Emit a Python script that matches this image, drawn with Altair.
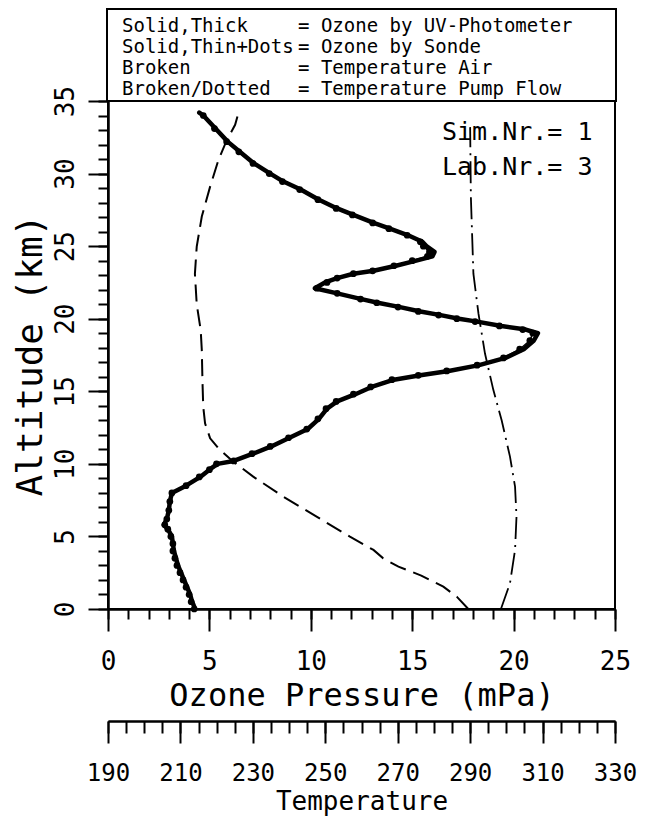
import altair as alt
import pandas as pd

# ---------------- data ----------------
uv_alt = [0.0, 0.5, 1.0, 1.5, 2.0, 2.5, 3.0, 3.5, 4.0, 4.5, 5.0, 5.5, 5.8, 6.2, 6.8, 7.4, 8.0,
          8.5, 9.1, 9.6, 10.0, 10.2, 10.7, 11.2, 11.8, 12.4, 13.1, 13.8, 14.3, 14.8, 15.3,
          15.8, 16.1, 16.4, 16.8, 17.3, 17.9, 18.5, 19.0, 19.25, 19.5, 19.8, 20.0, 20.25,
          20.5, 20.8, 21.1, 21.35, 21.75, 22.1, 22.5, 22.8, 23.1, 23.3, 23.65, 24.0, 24.3,
          24.6, 25.0, 25.3, 25.75, 26.2, 26.6, 27.15, 27.6, 28.2, 28.9, 29.45, 30.0, 30.7,
          31.5, 32.2, 33.1, 34.0, 34.2]
uv_o3 = [4.3, 4.15, 4.05, 3.9, 3.75, 3.6, 3.45, 3.35, 3.25, 3.2, 3.15, 2.95, 2.75, 2.9, 3.0, 3.05, 3.15,
         3.85, 4.55, 5.0, 5.4, 6.2, 7.15, 8.05, 8.95, 9.85, 10.4, 10.8, 11.3, 12.2, 13.0,
         14.1, 15.4, 16.8, 18.3, 19.6, 20.5, 21.0, 21.2, 20.6, 19.4, 18.2, 17.3, 16.4,
         15.4, 14.4, 13.3, 12.5, 11.3, 10.2, 10.7, 11.3, 12.1, 13.1, 14.2, 15.2, 16.0,
         16.1, 15.7, 15.5, 14.8, 13.9, 13.1, 12.1, 11.3, 10.4, 9.5, 8.65, 8.0, 7.2,
         6.5, 5.9, 5.3, 4.7, 4.5]

sonde_alt = [0.0, 0.5, 1.0, 1.5, 2.0, 2.5, 3.0, 3.5, 4.0, 4.5, 5.0, 5.5, 5.8, 6.2, 6.8, 7.4, 8.0,
             8.5, 9.1, 9.6, 10.0, 10.2, 10.7, 11.2, 11.8, 12.4, 13.1, 13.8, 14.3, 14.8, 15.3,
             15.8, 16.1, 16.4, 16.8, 17.3, 17.9, 18.5, 19.0, 19.25, 19.5, 19.8, 20.0, 20.25,
             20.5, 20.8, 21.1, 21.35, 21.75, 22.1, 22.5, 22.8, 23.1, 23.3, 23.65, 24.0, 24.3,
             24.6, 25.0, 25.3, 25.75, 26.2, 26.6, 27.15, 27.6, 28.2, 28.9, 29.45, 30.0, 30.7,
             31.5, 32.2, 33.1, 34.0]
sonde_o3 = [4.25, 4.1, 4.0, 3.85, 3.7, 3.55, 3.4, 3.3, 3.2, 3.2, 3.1, 2.95, 2.8, 2.9, 3.0, 3.05, 3.15,
            3.85, 4.5, 5.0, 5.35, 6.2, 7.1, 8.0, 8.9, 9.8, 10.35, 10.75, 11.25, 12.1, 12.95,
            14.0, 15.3, 16.7, 18.2, 19.5, 20.3, 20.8, 20.95, 20.45, 19.3, 18.1, 17.2, 16.3,
            15.3, 14.3, 13.25, 12.45, 11.3, 10.3, 10.8, 11.3, 12.1, 13.05, 14.1, 15.0, 15.75,
            15.85, 15.55, 15.4, 14.75, 13.85, 13.05, 12.05, 11.25, 10.35, 9.45, 8.6, 7.95, 7.15,
            6.45, 5.85, 5.25, 4.7]

tair_alt = [0.0, 0.85, 1.54, 2.3, 2.92, 3.49, 4.07, 4.98, 6.36, 7.74, 9.12, 10.15, 11.07, 11.76,
            12.79, 13.94, 15.55, 17.85, 19.2, 21.0, 23.1, 24.97, 27.04, 29.1, 30.94, 32.3,
            33.36, 34.16]
tair_t = [289.5, 286.3, 282.6, 276.5, 270.2, 266.0, 263.3, 256.8, 247.6, 238.4, 230.1, 224.6,
          220.5, 218.2, 216.8, 216.3, 216.1, 215.9, 215.6, 214.5, 214.0, 214.5, 215.9, 218.2,
          220.5, 222.8, 225.1, 226.0]

tpump_alt = [0.0, 1.77, 4.07, 6.36, 8.43, 10.5, 13.0, 15.1, 17.6, 20.35, 23.1, 28.4, 33.2]
tpump_t = [298.5, 301.0, 302.4, 302.8, 302.4, 301.0, 298.7, 296.4, 294.1, 292.3, 290.9,
           290.2, 290.0]

legend_keys = ["Solid,Thick", "Solid,Thin+Dots", "Broken", "Broken/Dotted"]
legend_vals = ["= Ozone by UV-Photometer", "= Ozone by Sonde", "= Temperature Air",
               "= Temperature Pump Flow"]
info_lines = ["Sim.Nr.= 1", "Lab.Nr.= 3"]

o3_major = [0, 5, 10, 15, 20, 25]
o3_minor = list(range(0, 26))
alt_major = [0, 5, 10, 15, 20, 25, 30, 35]
alt_minor = list(range(0, 36))
t_major = [190, 210, 230, 250, 270, 290, 310, 330]
t_minor = list(range(190, 331, 5))

# ---------------- chart ----------------
W, H = 507, 508
FONT = "DejaVu Sans Mono"

uv_df = pd.DataFrame({"alt": uv_alt, "o3": uv_o3, "i": range(len(uv_alt))})
sonde_df = pd.DataFrame({"alt": sonde_alt, "o3": sonde_o3, "i": range(len(sonde_alt))})
tair_df = pd.DataFrame({"alt": tair_alt, "t": tair_t, "i": range(len(tair_alt))})
tpump_df = pd.DataFrame({"alt": tpump_alt, "t": tpump_t, "i": range(len(tpump_alt))})
one = pd.DataFrame({"a": [0]})

xo = alt.Scale(domain=[0, 25], nice=False, zero=False)
yo = alt.Scale(domain=[0, 35], nice=False, zero=False)
xt = alt.Scale(domain=[190, 330], nice=False, zero=False)

ax = dict(domainColor="black", domainWidth=2, tickColor="black", tickWidth=2,
          labelFont=FONT, titleFont=FONT, labelColor="black", titleColor="black",
          grid=False, titleFontWeight="normal", labelFlush=False, labelOverlap=False)

x_major = alt.Axis(values=o3_major, tickSize=22, labelFontSize=26, labelPadding=17,
                   title="Ozone Pressure (mPa)", titleFontSize=32, titlePadding=6,
                   orient="bottom", format="d", **ax)
x_minor = alt.Axis(values=o3_minor, tickSize=10, labels=False, title=None,
                   orient="bottom", **ax)
y_major = alt.Axis(values=alt_major, tickSize=20, labelFontSize=26, labelPadding=10,
                   labelAngle=270, labelAlign="center", labelBaseline="bottom",
                   title="Altitude (km)", titleFontSize=36, titlePadding=3,
                   orient="left", format="d", **ax)
y_minor = alt.Axis(values=alt_minor, tickSize=10, labels=False, title=None,
                   orient="left", **ax)
t_major_ax = alt.Axis(values=t_major, tickSize=22, labelFontSize=24, labelPadding=18,
                      title="Temperature", titleFontSize=26, titlePadding=3,
                      orient="bottom", offset=112, format="d", **ax)
t_minor_ax = alt.Axis(values=t_minor, tickSize=12, labels=False, title=None,
                      orient="bottom", offset=112, **ax)

uv = alt.Chart(uv_df).mark_line(color="black", strokeWidth=4.5, strokeJoin="round",
                                strokeCap="round").encode(
    x=alt.X("o3:Q", scale=xo, axis=x_major),
    y=alt.Y("alt:Q", scale=yo, axis=y_major),
    order="i:Q")

sonde_line = alt.Chart(sonde_df).mark_line(color="black", strokeWidth=1.5).encode(
    x=alt.X("o3:Q", scale=xo, axis=x_minor),
    y=alt.Y("alt:Q", scale=yo, axis=y_minor),
    order="i:Q")

sonde_dots = alt.Chart(sonde_df).mark_circle(color="black", size=45, opacity=1).encode(
    x=alt.X("o3:Q", scale=xo, axis=None),
    y=alt.Y("alt:Q", scale=yo, axis=None))

tair = alt.Chart(tair_df).mark_line(color="black", strokeWidth=2,
                                    strokeDash=[17, 8]).encode(
    x=alt.X("t:Q", scale=xt, axis=t_major_ax),
    y=alt.Y("alt:Q", scale=yo, axis=None),
    order="i:Q")

tpump = alt.Chart(tpump_df).mark_line(color="black", strokeWidth=1.8,
                                      strokeDash=[22, 6, 2, 6]).encode(
    x=alt.X("t:Q", scale=xt, axis=t_minor_ax),
    y=alt.Y("alt:Q", scale=yo, axis=None),
    order="i:Q")

box = alt.Chart(one).mark_rect(fill="white", stroke="black", strokeWidth=2).encode(
    x=alt.value(-1), x2=alt.value(W + 1), y=alt.value(-92), y2=alt.value(0))

leg_left = alt.Chart(one).mark_text(text=legend_keys, align="left", baseline="top",
                                    lineHeight=21, font=FONT, fontSize=19,
                                    color="black").encode(
    x=alt.value(14), y=alt.value(-84))
leg_right = alt.Chart(one).mark_text(text=legend_vals, align="left", baseline="top",
                                     lineHeight=21, font=FONT, fontSize=19,
                                     color="black").encode(
    x=alt.value(190), y=alt.value(-84))
info = alt.Chart(one).mark_text(text=info_lines, align="left", baseline="top",
                                lineHeight=35, font=FONT, fontSize=25,
                                color="black").encode(
    x=alt.value(334), y=alt.value(19))

chart = alt.layer(uv, sonde_line, sonde_dots, tair, tpump, box, leg_left, leg_right, info
                  ).resolve_scale(x="independent", y="independent").properties(
    width=W, height=H,
    autosize=alt.AutoSizeParams(type="none"),
    padding={"left": 100, "top": 93, "right": 22, "bottom": 208},
    background="white",
).configure_view(stroke="black", strokeWidth=2)

chart.save("out.html", embed_options={"renderer": "svg", "actions": False})
